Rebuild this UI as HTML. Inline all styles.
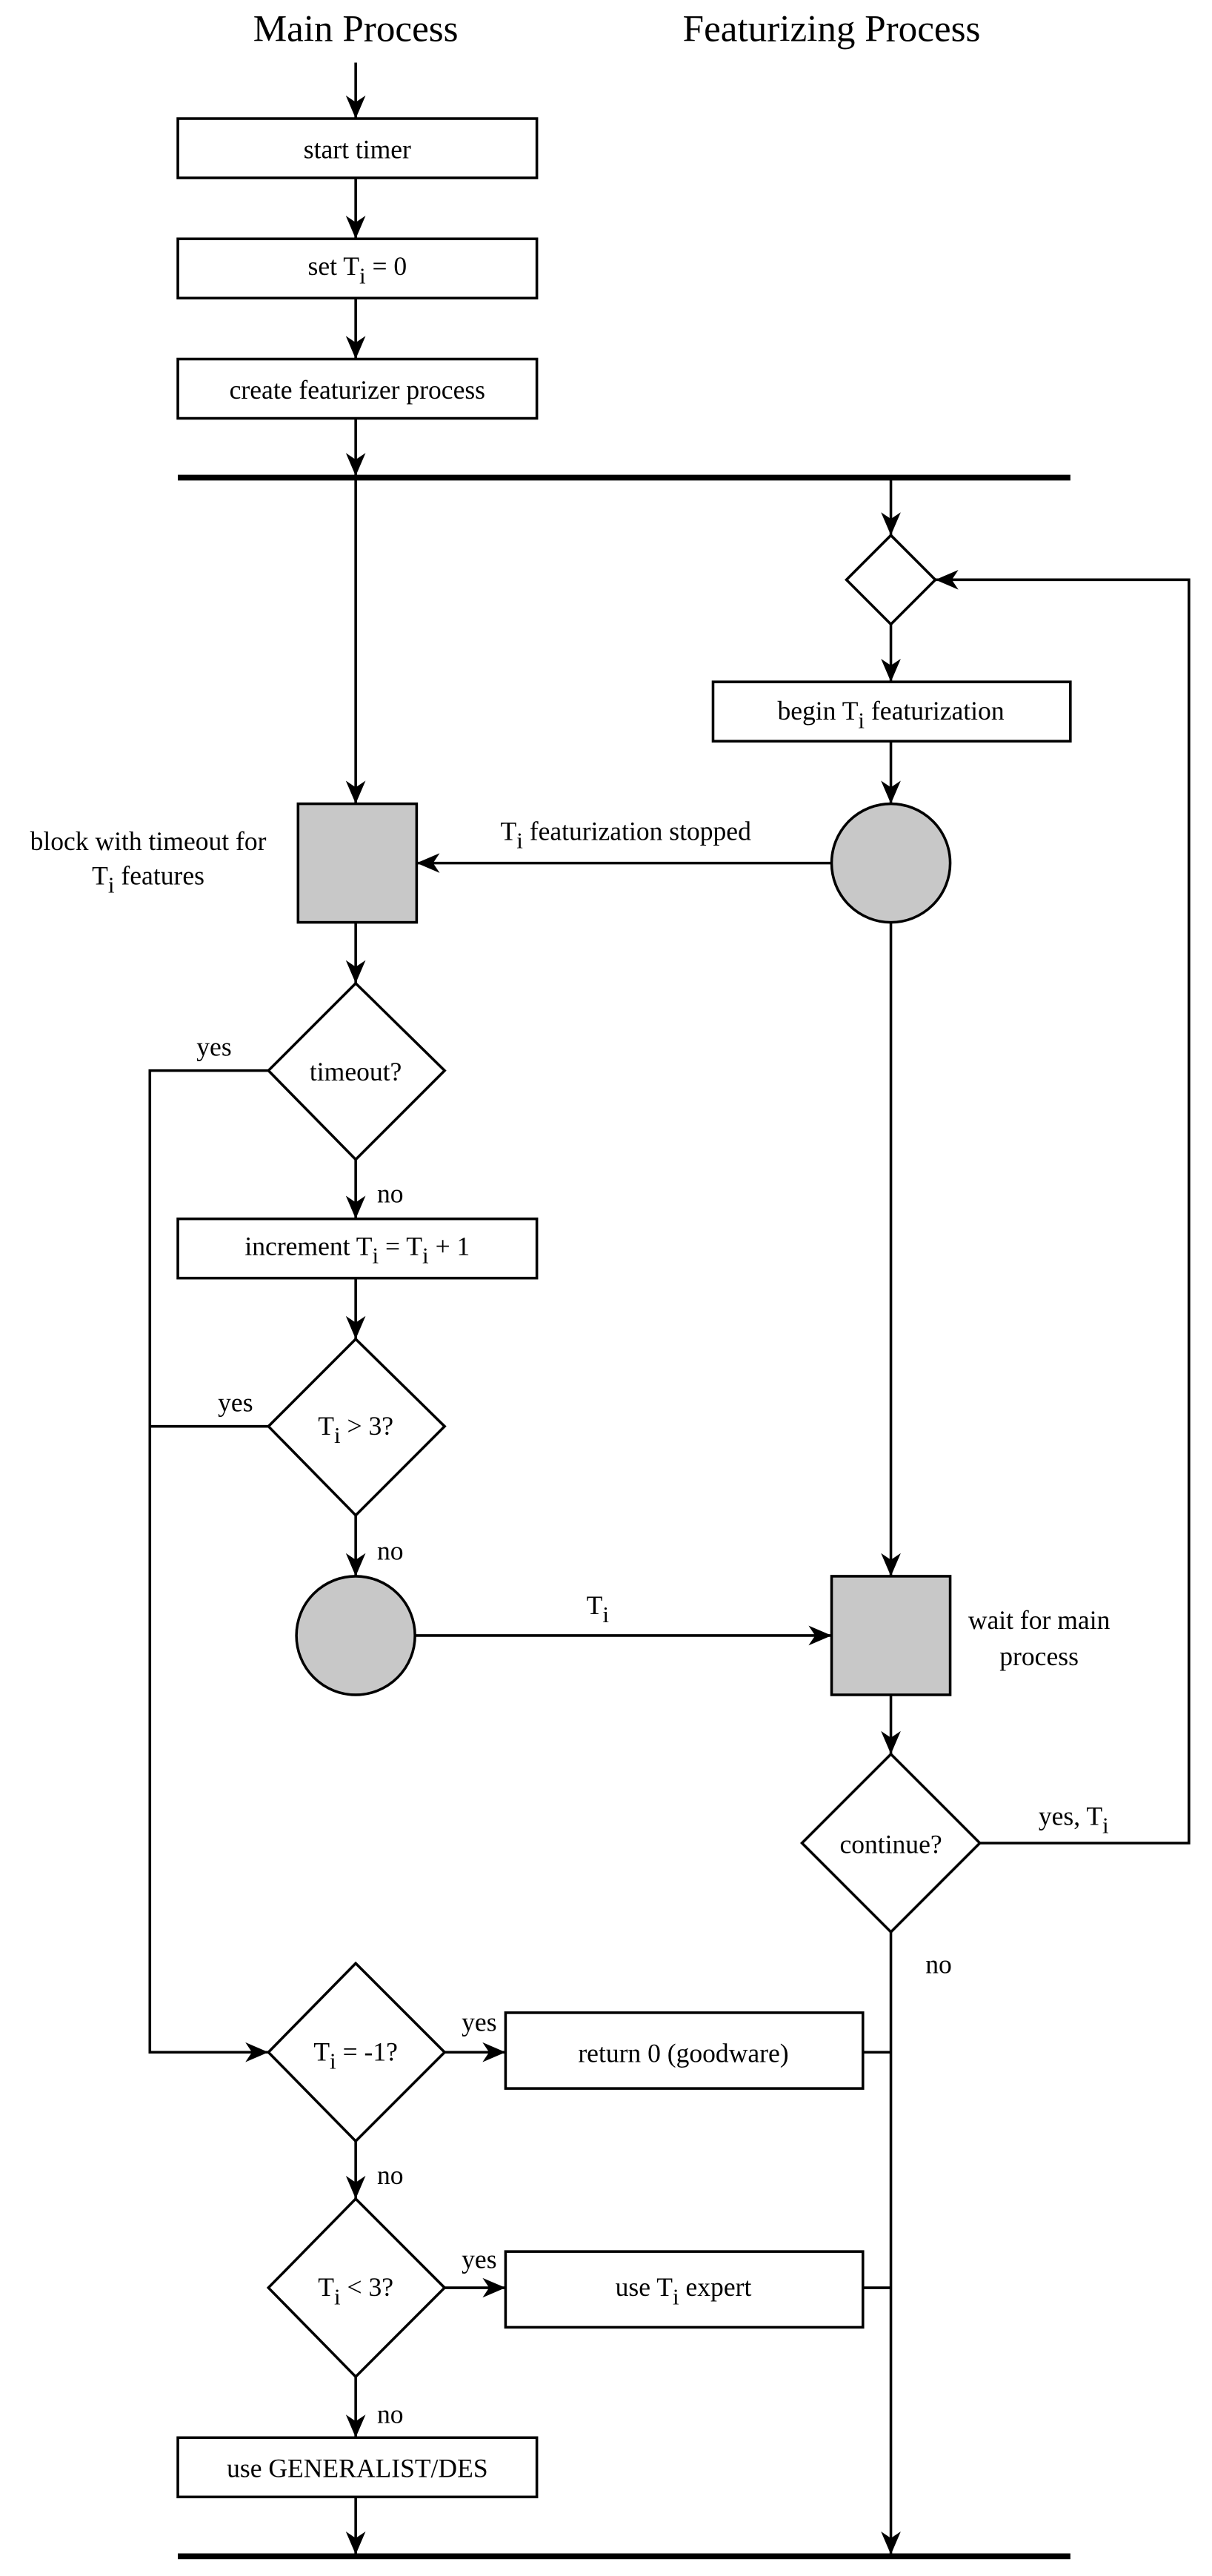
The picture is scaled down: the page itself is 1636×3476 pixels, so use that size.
<!DOCTYPE html>
<html><head><meta charset="utf-8"><style>
html,body{margin:0;padding:0;background:#fff;}
svg{display:block;}
svg text{font-family:'Liberation Serif','Times New Roman','DejaVu Serif',serif;fill:#000;}
</style></head><body>
<svg width="1636" height="3476" viewBox="0 0 736 1564" preserveAspectRatio="none" xmlns="http://www.w3.org/2000/svg" font-family="Liberation Serif, DejaVu Serif, serif">
<defs>
<marker id="a" viewBox="0 0 14 12" refX="14" refY="6" markerWidth="14" markerHeight="12" markerUnits="userSpaceOnUse" orient="auto">
<path d="M0,0 L14,6 L0,12 L4,6 Z" fill="#000"/>
</marker>
</defs>
<g font-size="23" text-anchor="middle" font-family="Liberation Serif, DejaVu Serif, serif">
<text x="216" y="25">Main Process</text>
<text x="505" y="25">Featurizing Process</text>
</g>
<g stroke="#000" stroke-width="1.6" fill="none">
<line x1="216" y1="38" x2="216" y2="72" marker-end="url(#a)"/>
<rect x="108" y="72" width="218" height="36" fill="#fff"/>
<line x1="216" y1="108" x2="216" y2="145" marker-end="url(#a)"/>
<rect x="108" y="145" width="218" height="36" fill="#fff"/>
<line x1="216" y1="181" x2="216" y2="218" marker-end="url(#a)"/>
<rect x="108" y="218" width="218" height="36" fill="#fff"/>
<line x1="216" y1="254" x2="216" y2="289" marker-end="url(#a)"/>
<line x1="108" y1="290" x2="650" y2="290" stroke-width="3.5"/>
<line x1="216" y1="290" x2="216" y2="488" marker-end="url(#a)"/>
<rect x="181" y="488" width="72" height="72" fill="#c8c8c8"/>
<line x1="541" y1="290" x2="541" y2="325" marker-end="url(#a)"/>
<polygon points="541,325 568,352 541,379 514,352" fill="#fff"/>
<line x1="541" y1="379" x2="541" y2="414" marker-end="url(#a)"/>
<rect x="433" y="414" width="217" height="36" fill="#fff"/>
<line x1="541" y1="450" x2="541" y2="488" marker-end="url(#a)"/>
<circle cx="541" cy="524" r="36" fill="#c8c8c8"/>
<line x1="505" y1="524" x2="253" y2="524" marker-end="url(#a)"/>
<line x1="216" y1="560" x2="216" y2="597" marker-end="url(#a)"/>
<polygon points="216,597 270,650 216,704 163,650" fill="#fff"/>
<polyline points="163,650 91,650 91,1246 163,1246" marker-end="url(#a)"/>
<line x1="216" y1="704" x2="216" y2="740" marker-end="url(#a)"/>
<rect x="108" y="740" width="218" height="36" fill="#fff"/>
<line x1="216" y1="776" x2="216" y2="813" marker-end="url(#a)"/>
<polygon points="216,813 270,866 216,920 163,866" fill="#fff"/>
<line x1="163" y1="866" x2="91" y2="866"/>
<line x1="216" y1="920" x2="216" y2="957" marker-end="url(#a)"/>
<circle cx="216" cy="993" r="36" fill="#c8c8c8"/>
<line x1="252" y1="993" x2="505" y2="993" marker-end="url(#a)"/>
<line x1="541" y1="560" x2="541" y2="957" marker-end="url(#a)"/>
<rect x="505" y="957" width="72" height="72" fill="#c8c8c8"/>
<line x1="541" y1="1029" x2="541" y2="1065" marker-end="url(#a)"/>
<polygon points="541,1065 595,1119 541,1173 487,1119" fill="#fff"/>
<polyline points="595,1119 722,1119 722,352 568,352" marker-end="url(#a)"/>
<line x1="541" y1="1173" x2="541" y2="1551" marker-end="url(#a)"/>
<polygon points="216,1192 270,1246 216,1300 163,1246" fill="#fff"/>
<line x1="270" y1="1246" x2="307" y2="1246" marker-end="url(#a)"/>
<rect x="307" y="1222" width="217" height="46" fill="#fff"/>
<line x1="524" y1="1246" x2="541" y2="1246"/>
<line x1="216" y1="1300" x2="216" y2="1335" marker-end="url(#a)"/>
<polygon points="216,1335 270,1389 216,1443 163,1389" fill="#fff"/>
<line x1="270" y1="1389" x2="307" y2="1389" marker-end="url(#a)"/>
<rect x="307" y="1367" width="217" height="46" fill="#fff"/>
<line x1="524" y1="1389" x2="541" y2="1389"/>
<line x1="216" y1="1443" x2="216" y2="1480" marker-end="url(#a)"/>
<rect x="108" y="1480" width="218" height="36" fill="#fff"/>
<line x1="216" y1="1516" x2="216" y2="1551" marker-end="url(#a)"/>
<line x1="108" y1="1552" x2="650" y2="1552" stroke-width="3.5"/>
</g>
<g font-size="16" text-anchor="middle" font-family="Liberation Serif, DejaVu Serif, serif">
<text x="217" y="96">start timer</text>
<text x="217" y="167">set T<tspan font-size="14" dy="5">i</tspan><tspan dy="-5"> = 0</tspan></text>
<text x="217" y="242">create featurizer process</text>
<text x="541" y="437">begin T<tspan font-size="14" dy="5">i</tspan><tspan dy="-5"> featurization</tspan></text>
<text x="380" y="510">T<tspan font-size="14" dy="5">i</tspan><tspan dy="-5"> featurization stopped</tspan></text>
<text x="90" y="516">block with timeout for</text>
<text x="90" y="537">T<tspan font-size="14" dy="5">i</tspan><tspan dy="-5"> features</tspan></text>
<text x="216" y="656">timeout?</text>
<text x="130" y="641">yes</text>
<text x="237" y="730">no</text>
<text x="217" y="762">increment T<tspan font-size="14" dy="5">i</tspan><tspan dy="-5"> = T</tspan><tspan font-size="14" dy="5">i</tspan><tspan dy="-5"> + 1</tspan></text>
<text x="216" y="871">T<tspan font-size="14" dy="5">i</tspan><tspan dy="-5"> &gt; 3?</tspan></text>
<text x="143" y="857">yes</text>
<text x="237" y="947">no</text>
<text x="363" y="980">T<tspan font-size="14" dy="5">i</tspan></text>
<text x="631" y="989">wait for main</text>
<text x="631" y="1011">process</text>
<text x="541" y="1125">continue?</text>
<text x="652" y="1108">yes, T<tspan font-size="14" dy="5">i</tspan></text>
<text x="570" y="1198">no</text>
<text x="216" y="1251">T<tspan font-size="14" dy="5">i</tspan><tspan dy="-5"> = -1?</tspan></text>
<text x="291" y="1233">yes</text>
<text x="415" y="1252">return 0 (goodware)</text>
<text x="237" y="1326">no</text>
<text x="216" y="1394">T<tspan font-size="14" dy="5">i</tspan><tspan dy="-5"> &lt; 3?</tspan></text>
<text x="291" y="1377">yes</text>
<text x="415" y="1394">use T<tspan font-size="14" dy="5">i</tspan><tspan dy="-5"> expert</tspan></text>
<text x="237" y="1471">no</text>
<text x="217" y="1504">use GENERALIST/DES</text>
</g>
</svg>
</body></html>
